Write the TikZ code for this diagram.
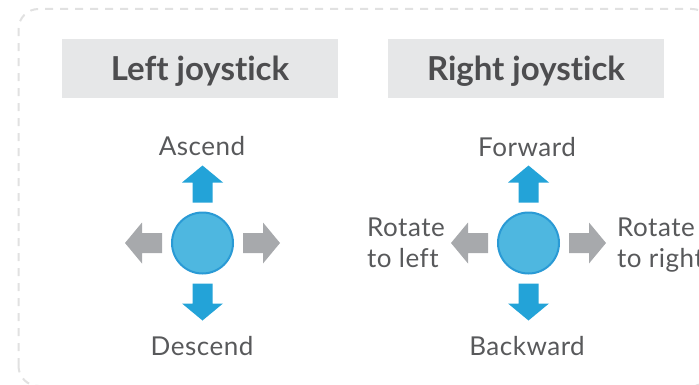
\documentclass[tikz,border=0pt]{standalone}
\usepackage{fontspec}
\setmainfont{Lato}[Ligatures=NoCommon]
\newfontfamily\lblfont{Lato}[LetterSpace=2,Ligatures=NoCommon]
\definecolor{arrowblue}{HTML}{23A3D8}
\definecolor{circfill}{HTML}{4EB7E0}
\definecolor{circline}{HTML}{2A9AD5}
\definecolor{arrowgray}{HTML}{A7A9AC}
\definecolor{titlebg}{HTML}{E6E7E8}
\definecolor{titletext}{HTML}{4D4D4F}
\definecolor{labeltext}{HTML}{58595B}
\definecolor{borderc}{HTML}{E1E1E1}
\tikzset{
  titlebox/.style={fill=titlebg, minimum width=276pt, minimum height=59pt, inner sep=0pt},
  titletxt/.style={text=titletext, font=\fontsize{33}{36}\selectfont\bfseries, inner sep=0pt, anchor=base},
  stick/.style={circle, fill=circfill, draw=circline, line width=2pt, minimum size=61pt, inner sep=0pt},
  lbl/.style={text=labeltext, font=\lblfont\fontsize{26}{30}\selectfont, inner sep=0pt},
  blue arrow/.style={fill=arrowblue},
  gray arrow/.style={fill=arrowgray},
}
\newcommand\blockarr[3]{%
  \begin{scope}[shift={(#2)}, rotate=#3]
    \fill[#1] (40.5,-10) -- (60.5,-10) -- (60.5,-20.5) -- (77.5,0) -- (60.5,20.5) -- (60.5,10) -- (40.5,10) -- cycle;
  \end{scope}}
\begin{document}
\begin{tikzpicture}[x=1pt,y=1pt]
\useasboundingbox (0,0) rectangle (699,384);
\begin{scope}
\clip (0,0) rectangle (699,384);
\draw[borderc, line width=2pt, dash pattern=on 8pt off 7pt, rounded corners=20pt] (18.5,-2) rectangle (712,375);
\end{scope}
% titles
\node[titlebox] (lt) at (200,315.5) {};
\node[titletxt] (ltt) at (200,304) {Left joystick};
\node[titlebox] (rt) at (526,315.5) {};
\node[titletxt] (rtt) at (526,304) {Right joystick};
% joysticks
\node[stick] (lc) at (202.5,141) {};
\node[stick] (rc) at (528.5,141) {};
\blockarr{blue arrow}{lc}{90}
\blockarr{blue arrow}{lc}{-90}
\blockarr{gray arrow}{lc}{180}
\blockarr{gray arrow}{lc}{0}
\blockarr{blue arrow}{rc}{90}
\blockarr{blue arrow}{rc}{-90}
\blockarr{gray arrow}{rc}{180}
\blockarr{gray arrow}{rc}{0}
% labels
\node[lbl, anchor=base] (asc) at (202,229) {Ascend};
\node[lbl, anchor=base] (desc) at (202,29) {Descend};
\node[lbl, anchor=base] (fwd) at (527,228) {Forward};
\node[lbl, anchor=base] (bwd) at (527,29) {Backward};
\node[lbl, anchor=base west] (rl1) at (367,148) {Rotate};
\node[lbl, anchor=base west] (rl2) at (367,117) {to left};
\node[lbl, anchor=base west] (rr1) at (617,148) {Rotate};
\node[lbl, anchor=base west] (rr2) at (617,117) {to right};
\end{tikzpicture}
\end{document}
